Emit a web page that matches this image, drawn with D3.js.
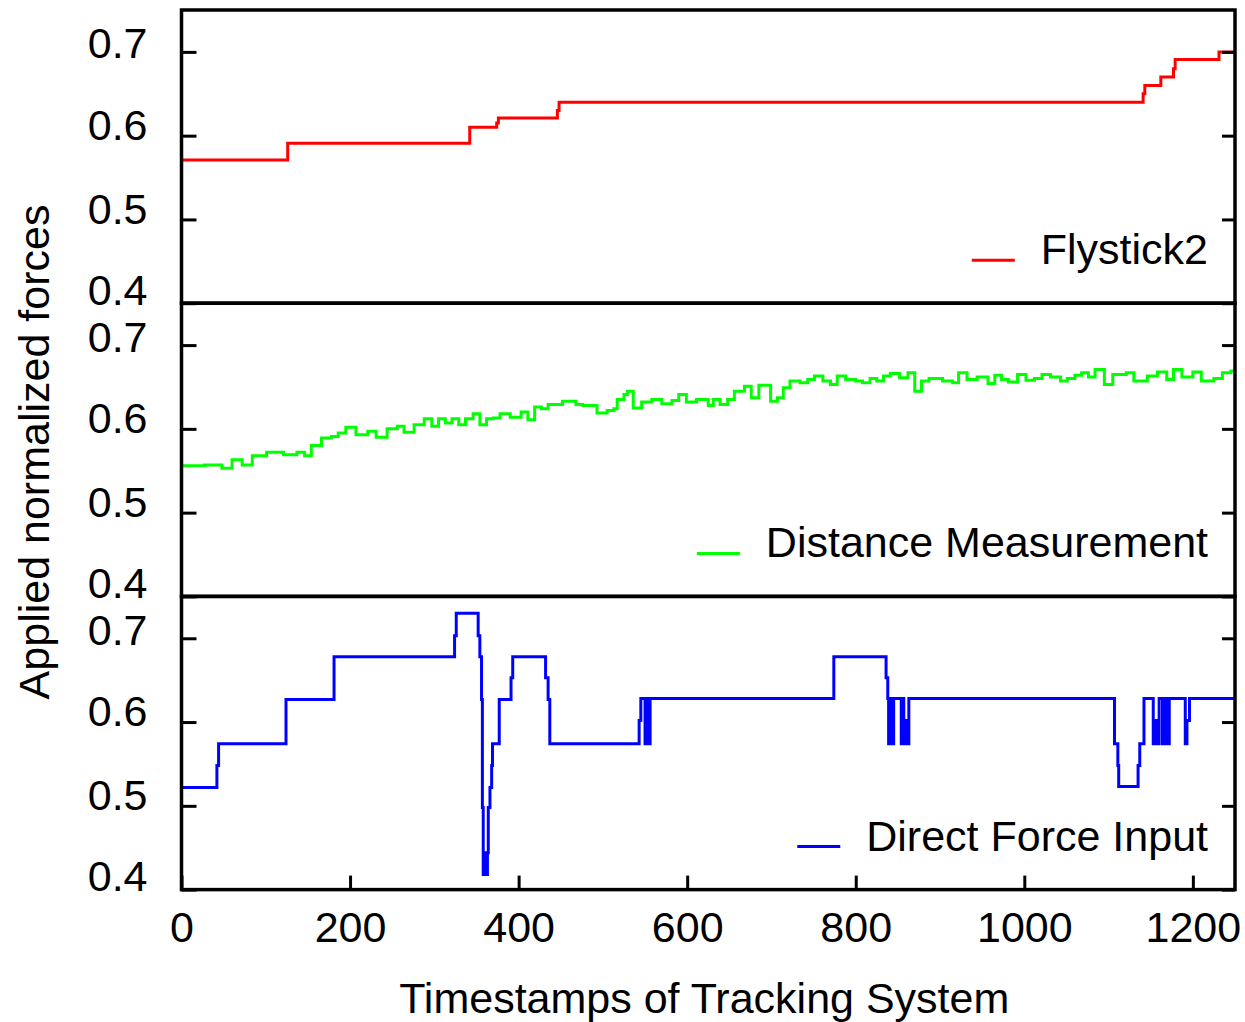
<!DOCTYPE html>
<html>
<head>
<meta charset="utf-8">
<script src="https://cdn.jsdelivr.net/npm/d3@7"></script>
<style>
  html, body {
    margin: 0;
    padding: 0;
    background: #fff;
  }
  svg text {
    font-family: "Liberation Sans", Arial, sans-serif;
    font-size: 43px;
    fill: #000;
  }
</style>
</head>
<body>
<svg id="chart" width="1245" height="1022"></svg>
<script>
// x axis and y axis ticks
var xTicks = [0, 200, 400, 600, 800, 1000, 1200];
var yTicks = [0.4, 0.5, 0.6, 0.7];

var seriesNames = ['Flystick2', 'Distance Measurement', 'Direct Force Input'];

// Flystick2 (top panel), step changes
var flystickT = [0, 126, 342, 374, 376, 446, 448, 1141, 1143, 1162, 1177, 1179, 1231, 1250];
var flystickV = [0.571, 0.591, 0.610, 0.615, 0.621, 0.630, 0.640, 0.650, 0.660, 0.670, 0.680, 0.691, 0.700, 0.700];

// Distance Measurement (middle panel)
var distanceT = [0, 27, 48, 60, 72, 84, 101, 121, 137, 146, 154, 166, 178, 186, 195, 207, 221, 231,
  244, 256, 264, 276, 288, 297, 305, 313, 321, 329, 337, 346, 354, 362, 370, 378, 390, 403, 411,
  419, 427, 435, 452, 468, 476, 493, 505, 513, 517, 525, 529, 536, 546, 558, 570, 582, 590, 599,
  611, 625, 631, 639, 648, 656, 668, 676, 685, 699, 707, 714, 722, 734, 743, 751, 761, 770, 778,
  788, 800, 808, 817, 825, 833, 841, 852, 862, 870, 878, 887, 903, 915, 922, 932, 944, 957, 965,
  973, 981, 992, 1002, 1012, 1021, 1031, 1043, 1051, 1060, 1068, 1076, 1084, 1095, 1105, 1121,
  1130, 1146, 1158, 1169, 1177, 1187, 1200, 1210, 1225, 1235, 1245, 1250];
var distanceV = [0.556, 0.557, 0.553, 0.563, 0.557, 0.568, 0.572, 0.569, 0.572, 0.568, 0.580, 0.589,
  0.591, 0.595, 0.602, 0.593, 0.597, 0.590, 0.600, 0.603, 0.596, 0.605, 0.612, 0.603, 0.612, 0.607,
  0.612, 0.605, 0.612, 0.618, 0.605, 0.612, 0.613, 0.618, 0.614, 0.620, 0.611, 0.626, 0.624, 0.629,
  0.633, 0.629, 0.628, 0.619, 0.622, 0.624, 0.635, 0.641, 0.645, 0.625, 0.632, 0.635, 0.630, 0.634,
  0.641, 0.632, 0.635, 0.628, 0.635, 0.629, 0.635, 0.645, 0.651, 0.637, 0.652, 0.633, 0.637, 0.649,
  0.657, 0.655, 0.659, 0.663, 0.657, 0.653, 0.663, 0.659, 0.657, 0.655, 0.660, 0.657, 0.663, 0.666,
  0.661, 0.667, 0.645, 0.657, 0.660, 0.657, 0.655, 0.667, 0.659, 0.662, 0.654, 0.664, 0.659, 0.656,
  0.665, 0.658, 0.660, 0.665, 0.662, 0.657, 0.660, 0.664, 0.667, 0.662, 0.671, 0.653, 0.665, 0.667,
  0.657, 0.663, 0.668, 0.659, 0.671, 0.662, 0.668, 0.657, 0.660, 0.667, 0.669, 0.669];

// Direct Force Input (bottom panel)
var directT = [0, 42, 44, 124, 181, 324, 326, 352, 354, 356, 357, 358, 360, 361, 363, 364, 366, 368,
  369, 377, 391, 393, 432, 435, 437, 543, 545, 550, 552, 553, 556, 774, 836, 838, 839, 841, 842,
  845, 854, 856, 857, 860, 861, 863, 1107, 1111, 1112, 1135, 1137, 1142, 1153, 1156, 1158, 1160,
  1164, 1166, 1167, 1170, 1171, 1172, 1191, 1193, 1196, 1250];
var directV = [0.522, 0.548, 0.574, 0.627, 0.678, 0.703, 0.730, 0.703, 0.678, 0.627, 0.498, 0.418,
  0.444, 0.418, 0.444, 0.498, 0.522, 0.548, 0.574, 0.627, 0.653, 0.678, 0.653, 0.627, 0.574, 0.602,
  0.628, 0.574, 0.628, 0.574, 0.628, 0.678, 0.653, 0.628, 0.574, 0.628, 0.574, 0.628, 0.574, 0.628,
  0.574, 0.602, 0.574, 0.628, 0.574, 0.548, 0.523, 0.548, 0.574, 0.628, 0.574, 0.602, 0.574, 0.628,
  0.574, 0.628, 0.574, 0.628, 0.574, 0.628, 0.574, 0.602, 0.628, 0.628];

var COLORS = ['#ff0000', '#00ff00', '#0000ff'];

var LEFT = 181.5,
    RIGHT = 1235,
    TOP = 10,
    PANEL_H = 293.2;

var svg = d3.select('#chart');

var x = d3.scaleLinear()
  .domain([0, 1250])
  .range([LEFT, RIGHT]);

var panels = [
  { t: flystickT, v: flystickV },
  { t: distanceT, v: distanceV },
  { t: directT, v: directV }
];

panels.forEach(function (p, i) {
  var top = TOP + i * PANEL_H,
      bottom = top + PANEL_H,
      y, g, line, pts, label, legendX;

  y = d3.scaleLinear()
    .domain([0.4, 0.75])
    .range([bottom, top]);

  g = svg.append('g');

  // clip so lines stay within the panel
  svg.append('clipPath')
      .attr('id', 'clip' + i)
    .append('rect')
      .attr('x', LEFT)
      .attr('y', top)
      .attr('width', RIGHT - LEFT)
      .attr('height', PANEL_H);

  pts = p.t.map(function (t, k) { return [t, p.v[k]]; });

  line = d3.line()
    .x(function (d) { return x(d[0]); })
    .y(function (d) { return y(d[1]); })
    .curve(d3.curveStepAfter);

  g.append('path')
    .datum(pts)
    .attr('clip-path', 'url(#clip' + i + ')')
    .attr('d', line)
    .attr('fill', 'none')
    .attr('stroke', COLORS[i])
    .attr('stroke-width', 3);

  // left axis with labels
  var left = g.append('g')
    .attr('transform', 'translate(' + LEFT + ',0)')
    .call(d3.axisLeft(y)
      .tickValues(yTicks)
      .tickSize(-15)
      .tickPadding(34)
      .tickFormat(d3.format('.1f')));
  left.select('.domain').remove();
  left.selectAll('.tick line').attr('stroke', '#000').attr('stroke-width', 3);
  // bottom label sits a bit higher, top label a bit lower, so they don't collide
  left.selectAll('.tick text')
    .attr('dy', function (d) { return d === 0.4 ? '0.02em' : (d === 0.7 ? '0.14em' : '0.09em'); })
    .style('font-size', '43px')
    .style('font-family', '"Liberation Sans", Arial, sans-serif');

  // right axis, ticks only
  var right = g.append('g')
    .attr('transform', 'translate(' + RIGHT + ',0)')
    .call(d3.axisRight(y)
      .tickValues(yTicks)
      .tickSize(-13)
      .tickFormat(''));
  right.select('.domain').remove();
  right.selectAll('.tick line').attr('stroke', '#000').attr('stroke-width', 3);

  // panel frame
  g.append('rect')
    .attr('x', LEFT)
    .attr('y', top)
    .attr('width', RIGHT - LEFT)
    .attr('height', PANEL_H)
    .attr('fill', 'none')
    .attr('stroke', '#000')
    .attr('stroke-width', 3.5);

  // legend
  label = g.append('text')
    .attr('x', RIGHT - 27)
    .attr('y', bottom - 39)
    .attr('text-anchor', 'end')
    .text(seriesNames[i]);

  legendX = RIGHT - 27 - label.node().getComputedTextLength() - 26;
  g.append('line')
    .attr('x1', legendX - 43)
    .attr('x2', legendX)
    .attr('y1', bottom - 43)
    .attr('y2', bottom - 43)
    .attr('stroke', COLORS[i])
    .attr('stroke-width', 3);

  // x axis only on the last panel
  if (i === panels.length - 1) {
    var xa = g.append('g')
      .attr('transform', 'translate(0,' + bottom + ')')
      .call(d3.axisBottom(x)
        .tickValues(xTicks)
        .tickSize(-14)
        .tickPadding(22)
        .tickFormat(d3.format('d')));
    xa.select('.domain').remove();
    xa.selectAll('.tick line').attr('stroke', '#000').attr('stroke-width', 3);
    xa.selectAll('.tick text')
      .style('font-size', '43px')
      .style('font-family', '"Liberation Sans", Arial, sans-serif');
  }
});

// axis titles
svg.append('text')
  .attr('x', (LEFT + RIGHT) / 2 - 4)
  .attr('y', 1013)
  .attr('text-anchor', 'middle')
  .text('Timestamps of Tracking System');

svg.append('text')
  .attr('transform', 'translate(49,452) rotate(-90)')
  .attr('text-anchor', 'middle')
  .text('Applied normalized forces');
</script>
</body>
</html>
